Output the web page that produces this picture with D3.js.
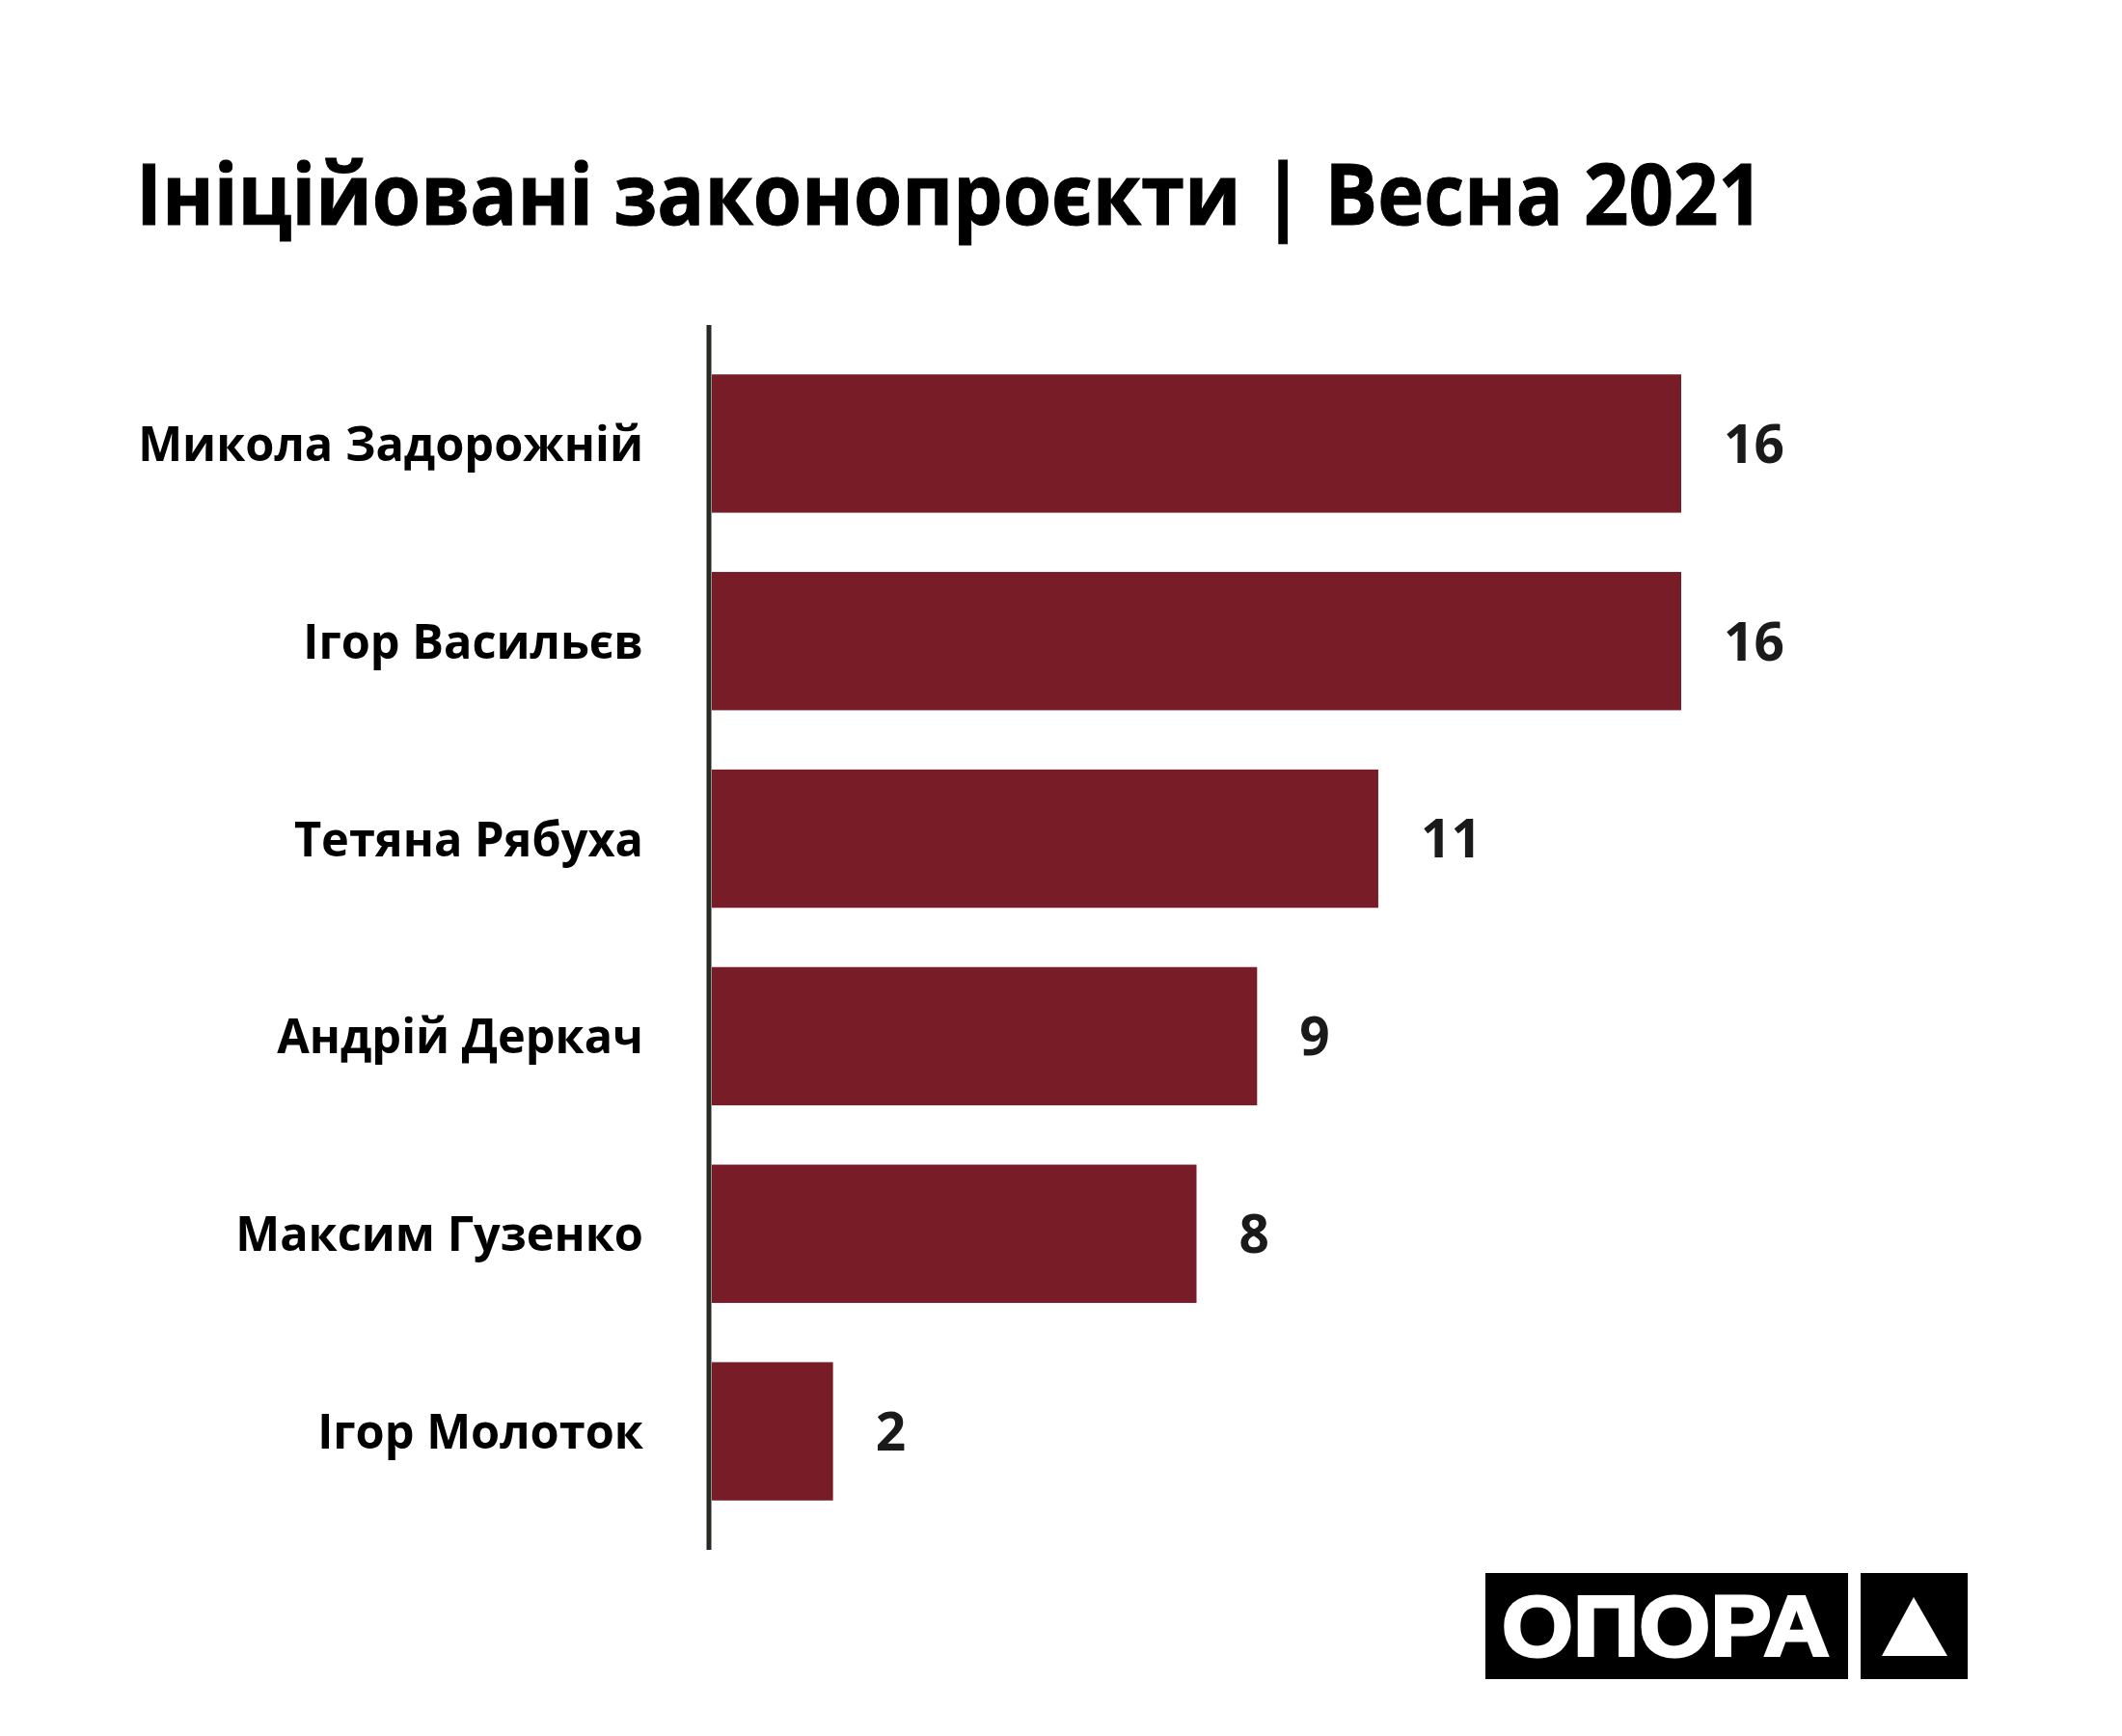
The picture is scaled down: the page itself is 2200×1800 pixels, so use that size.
<!DOCTYPE html>
<html>
<head>
<meta charset="utf-8">
<script src="https://cdn.jsdelivr.net/npm/d3@7"></script>
<style>
  body { margin: 0; background: #fff; }
  text { font-family: "Open Sans", "Noto Sans", sans-serif; font-weight: 700; }
</style>
</head>
<body>
<svg id="chart"></svg>
<script>
const names = ["Микола Задорожній", "Ігор Васильєв", "Тетяна Рябуха", "Андрій Деркач", "Максим Гузенко", "Ігор Молоток"];
const bills = [16, 16, 11, 9, 8, 2];
const title = "Ініційовані законопроєкти | Весна 2021";

const width = 2200, height = 1800;
const svg = d3.select("#chart").attr("width", width).attr("height", height);
svg.append("rect").attr("width", width).attr("height", height).attr("fill", "#fff");

const x = d3.scaleLinear().domain([0, 16]).range([738, 1743]);
const y = d3.scaleBand().domain(names).range([337, 1607]).paddingInner(0.3).paddingOuter(0.25);

// title
svg.append("text")
    .attr("x", 141).attr("y", 233)
    .attr("font-size", 87).attr("fill", "#000")
    .attr("stroke", "#000").attr("stroke-width", 1)
    .attr("textLength", 1687).attr("lengthAdjust", "spacingAndGlyphs")
    .text(title);

// bars
svg.append("g")
    .selectAll("rect")
    .data(bills)
    .join("rect")
        .attr("x", x(0))
        .attr("y", (d, i) => y(names[i]))
        .attr("width", d => x(d) - x(0))
        .attr("height", y.bandwidth())
        .attr("fill", "#781c28");

// axis line
svg.append("line")
    .attr("x1", x(0) - 3).attr("x2", x(0) - 3)
    .attr("y1", y.range()[0]).attr("y2", y.range()[1])
    .attr("stroke", "#262a23").attr("stroke-width", 5);

// names, squeezed to match the narrow typeface of the original
const labels = svg.append("g");
labels.selectAll("text")
    .data(names)
    .join("text")
        .attr("x", 0)
        .attr("y", d => y(d) + y.bandwidth() / 2)
        .attr("dy", "0.36em")
        .attr("text-anchor", "end")
        .attr("font-size", 50)
        .attr("fill", "#000")
        .text(d => d);
const longest = d3.max(labels.selectAll("text").nodes(), n => n.getComputedTextLength());
const sx = 524 / longest;
labels.attr("transform", `translate(667,0) scale(${sx},1)`);

// values
svg.append("g")
    .selectAll("text")
    .data(bills)
    .join("text")
        .attr("x", d => x(d) + 44)
        .attr("y", (d, i) => y(names[i]) + y.bandwidth() / 2)
        .attr("dy", "0.36em")
        .attr("font-size", 55)
        .attr("fill", "#1a1a1a")
        .text(d => d);

// logo
const logo = svg.append("g");
logo.append("rect").attr("x", 1540).attr("y", 1631).attr("width", 376).attr("height", 110).attr("fill", "#000");
logo.append("rect").attr("x", 1929).attr("y", 1631).attr("width", 111).attr("height", 110).attr("fill", "#000");
logo.append("text")
    .attr("x", 1557).attr("y", 1717)
    .style("font-family", "'Liberation Sans', Arial, sans-serif")
    .attr("font-size", 89).attr("fill", "#fff")
    .attr("stroke", "#fff").attr("stroke-width", 3)
    .attr("textLength", 340).attr("lengthAdjust", "spacingAndGlyphs")
    .text("ОПОРА");
logo.append("path")
    .attr("d", "M1984,1656 L2019,1717 L1951,1717 Z")
    .attr("fill", "#fff");
</script>
</body>
</html>
